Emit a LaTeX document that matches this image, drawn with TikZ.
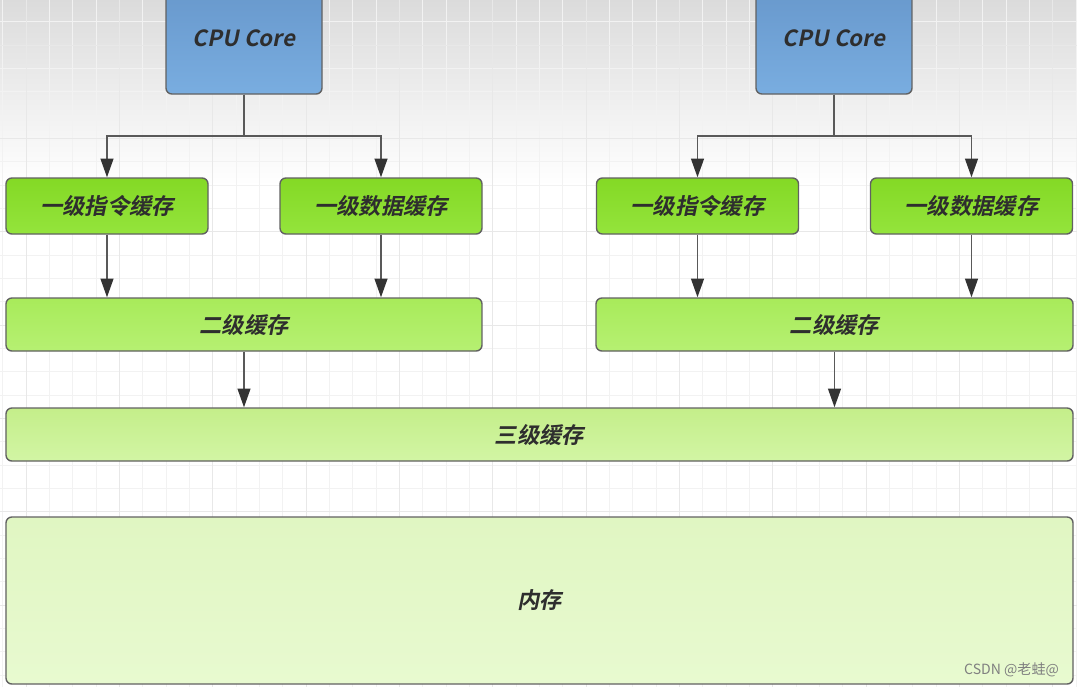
\documentclass[tikz,border=0pt]{standalone}
\usepackage{fontspec}
\newfontfamily\cjkbold[FakeSlant=0.2]{Noto Sans CJK SC Bold}
\newfontfamily\cjkplain{Noto Sans CJK SC}
\usetikzlibrary{arrows.meta,positioning}

\definecolor{cpuTop}{HTML}{6797CB}
\definecolor{cpuBot}{HTML}{79ADE0}
\definecolor{lOneTop}{HTML}{84D925}
\definecolor{lOneBot}{HTML}{94E43C}
\definecolor{lTwoTop}{HTML}{A8EB5A}
\definecolor{lTwoBot}{HTML}{B6F072}
\definecolor{lThreeTop}{HTML}{C4EE8A}
\definecolor{lThreeBot}{HTML}{D2F5A4}
\definecolor{memTop}{HTML}{E0F6C2}
\definecolor{memBot}{HTML}{E8FAD0}

\begin{document}
\begin{tikzpicture}[x=0.3mm,y=-0.3mm,
        gridminor/.style={draw=black!5, line width=0.6pt},
        gridmajor/.style={draw=black!9, line width=0.8pt},
        cache/.style={draw=black!62, line width=1.2pt, rounded corners=5pt, inner sep=0pt,
            font=\cjkbold\fontsize{19}{22}\selectfont, text=black!82},
        link/.style={draw=black!65, line width=1.4pt, -{Triangle[length=16pt,width=11pt,color=black!80]}}]
            \useasboundingbox (0,0) rectangle (1077,687);
            \clip (0,0) rectangle (1077,687);
            % background:
            \fill[white] (0,0) rectangle (1077,687);
            \fill[top color=black!14, bottom color=white] (0,0) rectangle (1077,185);
            \foreach \x in {0,...,46}
                \draw[gridminor] ({2.67+23.33*\x},0) -- ++(0,687);
            \foreach \y in {0,...,29}
                \draw[gridminor] (0,{-1.63+23.33*\y}) -- ++(1077,0);
            \foreach \x in {0,...,11}
                \draw[gridmajor] ({26+93.33*\x},0) -- ++(0,687);
            \foreach \y in {0,...,7}
                \draw[gridmajor] (0,{45+93.33*\y}) -- ++(1077,0);

            % cores (top edge is cut off):
            \node[cache, top color=cpuTop, bottom color=cpuBot, minimum width=4.68cm, minimum height=3.36cm] (cpuA) at (244,38) {CPU Core};
            \node[cache, top color=cpuTop, bottom color=cpuBot, minimum width=4.68cm, minimum height=3.36cm] (cpuB) at (834,38) {CPU Core};

            % level 1:
            \node[cache, top color=lOneTop, bottom color=lOneBot, minimum width=6.06cm, minimum height=1.68cm] (lOneInsA) at (107,206) {一级指令缓存};
            \node[cache, top color=lOneTop, bottom color=lOneBot, minimum width=6.06cm, minimum height=1.68cm] (lOneDatA) at (381,206) {一级数据缓存};
            \node[cache, top color=lOneTop, bottom color=lOneBot, minimum width=6.06cm, minimum height=1.68cm] (lOneInsB) at (697.5,206) {一级指令缓存};
            \node[cache, top color=lOneTop, bottom color=lOneBot, minimum width=6.06cm, minimum height=1.68cm] (lOneDatB) at (971.5,206) {一级数据缓存};

            % level 2, 3 and memory:
            \node[cache, top color=lTwoTop, bottom color=lTwoBot, minimum width=14.28cm, minimum height=1.59cm] (lTwoA) at (244,324.5) {二级缓存};
            \node[cache, top color=lTwoTop, bottom color=lTwoBot, minimum width=14.31cm, minimum height=1.59cm] (lTwoB) at (834.5,324.5) {二级缓存};
            \node[cache, top color=lThreeTop, bottom color=lThreeBot, minimum width=32.01cm, minimum height=1.59cm] (lThree) at (539.5,434.5) {三级缓存};
            \node[cache, top color=memTop, bottom color=memBot, minimum width=32.01cm, minimum height=5.01cm] (mem) at (539.5,600.5) {内存};

            % connectors:
            \draw[link] (cpuA.south) -- ++(0,41) -| (lOneInsA.north);
            \draw[link] (cpuA.south) -- ++(0,41) -| (lOneDatA.north);
            \draw[link] (cpuB.south) -- ++(0,41) -| (lOneInsB.north);
            \draw[link] (cpuB.south) -- ++(0,41) -| (lOneDatB.north);
            \draw[link] (lOneInsA.south) -- (lOneInsA.south |- lTwoA.north);
            \draw[link] (lOneDatA.south) -- (lOneDatA.south |- lTwoA.north);
            \draw[link] (lOneInsB.south) -- (lOneInsB.south |- lTwoB.north);
            \draw[link] (lOneDatB.south) -- (lOneDatB.south |- lTwoB.north);
            \draw[link] (lTwoA.south) -- (lTwoA.south |- lThree.north);
            \draw[link] (lTwoB.south) -- (lTwoB.south |- lThree.north);

            \node[anchor=east, font=\cjkplain\fontsize{12}{14}\selectfont, text=black!50] (mark) at (1063,670) {CSDN @老蛙@};
        \end{tikzpicture}
\end{document}
